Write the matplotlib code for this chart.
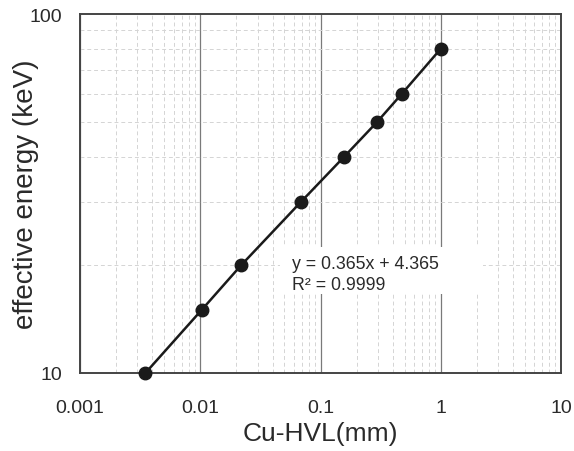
import matplotlib
matplotlib.use("Agg")
import matplotlib.pyplot as plt
from matplotlib.patches import Rectangle
from matplotlib.ticker import LogLocator, FixedLocator, FixedFormatter, NullFormatter

hvl_mm = [0.0035, 0.0103, 0.022, 0.069, 0.157, 0.295, 0.476, 1.0]
energia_kev = [10, 15, 20, 30, 40, 50, 60, 80]

x_ticks = [0.001, 0.01, 0.1, 1, 10]
x_labels = ["0.001", "0.01", "0.1", "1", "10"]
y_ticks = [10, 100]
y_labels = ["10", "100"]

plt.rcParams["font.family"] = ["Liberation Sans", "DejaVu Sans"]

fig = plt.figure(figsize=(5.74, 4.52), dpi=100)
ax = fig.add_axes([80 / 574, 1 - 374 / 452, 481 / 574, 359 / 452])

ax.set_xscale("log")
ax.set_yscale("log")
ax.set_xlim(0.001, 10)
ax.set_ylim(10, 100)

ax.xaxis.set_major_locator(FixedLocator(x_ticks))
ax.xaxis.set_major_formatter(FixedFormatter(x_labels))
ax.yaxis.set_major_locator(FixedLocator(y_ticks))
ax.yaxis.set_major_formatter(FixedFormatter(y_labels))
ax.xaxis.set_minor_locator(LogLocator(base=10, subs=range(2, 10)))
ax.yaxis.set_minor_locator(LogLocator(base=10, subs=range(2, 10)))
ax.xaxis.set_minor_formatter(NullFormatter())
ax.yaxis.set_minor_formatter(NullFormatter())

ax.grid(which="minor", color="#d4d4d4", linestyle=(0, (4, 3)), linewidth=0.7)
ax.grid(which="major", axis="x", color="#7a7a7a", linestyle="-", linewidth=0.9)
ax.tick_params(which="both", length=0, labelsize=14, colors="#2a2a2a")
ax.tick_params(axis="x", pad=19)
ax.tick_params(axis="y", pad=13)
ax.set_axisbelow(True)

for s in ax.spines.values():
    s.set_color("#444444")
    s.set_linewidth(1.4)

ax.plot(hvl_mm, energia_kev, color="#1a1a1a", linewidth=1.8, marker="o",
        markersize=9, markerfacecolor="#1a1a1a", clip_on=False, zorder=5)

# caixa branca por tras da equacao
ax.add_patch(Rectangle((0.416, 0.220), 0.422, 0.131, transform=ax.transAxes,
                       facecolor="white", edgecolor="none", zorder=3))
ax.text(0.441, 0.330, "y = 0.365x + 4.365\nR² = 0.9999", transform=ax.transAxes,
        fontsize=12.8, color="#2a2a2a", va="top", ha="left", linespacing=1.35,
        zorder=4)

ax.set_xlabel("Cu-HVL(mm)", fontsize=19, color="#2a2a2a", labelpad=3)
ax.set_ylabel("effective energy (keV)", fontsize=20, color="#2a2a2a", labelpad=-7)

fig.savefig("out.png", dpi=100)
